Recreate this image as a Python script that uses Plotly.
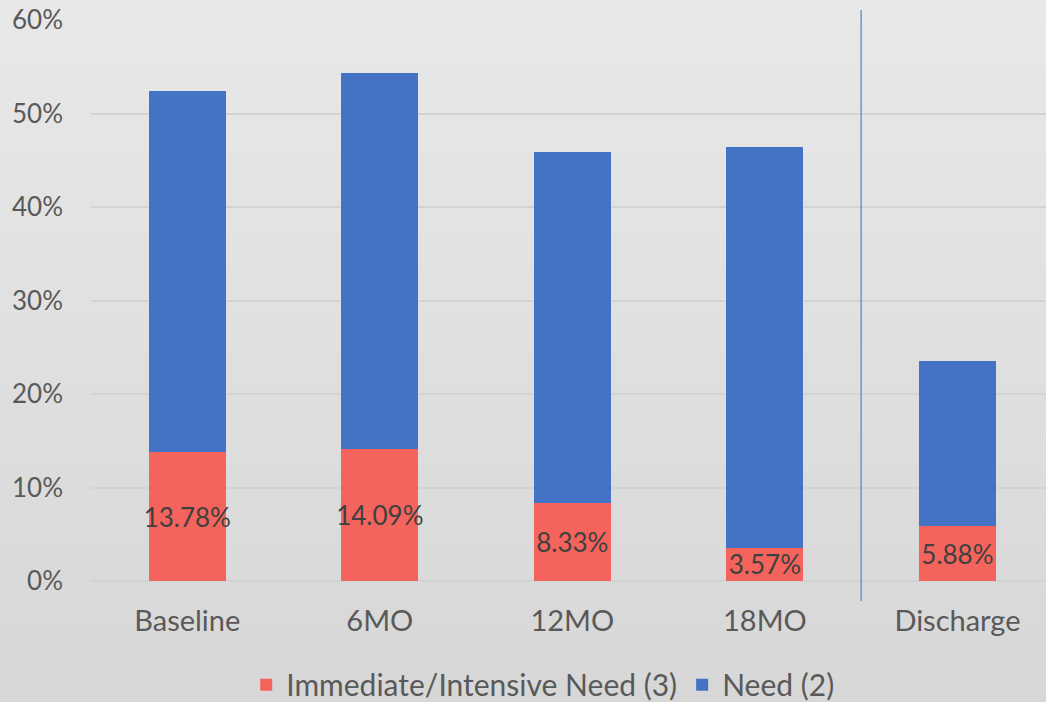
import plotly.graph_objects as go

categories = ["Baseline", "6MO", "12MO", "18MO", "Discharge"]
immediate_need = [13.78, 14.09, 8.33, 3.57, 5.88]
need = [38.6, 40.2, 37.5, 42.9, 17.6]
series_names = ["Immediate/Intensive Need (3)", "Need (2)"]
y_ticks = [0, 10, 20, 30, 40, 50, 60]
y_tick_labels = ["0%", "10%", "20%", "30%", "40%", "50%", "60%"]

FONT = "Lato"
W, H = 1046, 702
ML, MR, MT, MB = 91, 0, 20, 121

fig = go.Figure()
fig.add_trace(go.Bar(
    x=categories, y=immediate_need, name=series_names[0],
    marker=dict(color="#f4645c", line=dict(width=0)),
    width=0.4,
    text=[f"{v:.2f}%" for v in immediate_need],
    textposition="inside", insidetextanchor="middle", textangle=0,
    textfont=dict(family=FONT, size=26, color="#404040"),
    cliponaxis=False,
))
fig.add_trace(go.Bar(
    x=categories, y=need, name=series_names[1],
    marker=dict(color="#4472c4", line=dict(width=0)),
    width=0.4,
))

# background gradient (figure-wide, in paper coordinates)
pw = W - ML - MR
ph = H - MT - MB
n = 60
shapes = []
for i in range(n):
    t = i / (n - 1)
    c0, c1 = 0xe8, 0xd7
    c = round(c0 + (c1 - c0) * t)
    top_px = i * H / n - (2 if i == 0 else 0)
    bot_px = (i + 1) * H / n + (10 if i == n - 1 else 1)
    shapes.append(dict(
        type="rect", xref="paper", yref="paper", layer="below",
        x0=-ML / pw - 0.01, x1=(W - ML) / pw + 0.01,
        y0=(H - MB - bot_px) / ph, y1=(H - MB - top_px) / ph,
        line=dict(width=0), fillcolor=f"rgb({c},{c},{c})",
    ))

# separator line between 18MO and Discharge
shapes.append(dict(
    type="line", xref="x", yref="paper", layer="above",
    x0=3.5, x1=3.5, y0=(H - MB - 601) / ph, y1=(H - MB - 10) / ph,
    line=dict(color="#5b9bd5", width=1.5),
))

fig.update_layout(
    width=W, height=H,
    margin=dict(l=ML, r=MR, t=MT, b=MB, autoexpand=False),
    barmode="stack",
    paper_bgcolor="#d8d8d8",
    plot_bgcolor="rgba(0,0,0,0)",
    font=dict(family=FONT, color="#595959"),
    shapes=shapes,
    uniformtext=dict(minsize=26, mode="show"),
    showlegend=True,
    legend=dict(
        orientation="h", x=0.473, xanchor="center", y=-0.185, yanchor="middle",
        font=dict(family=FONT, size=30, color="#595959"),
        bgcolor="rgba(0,0,0,0)", traceorder="normal",
    ),
    xaxis=dict(
        range=[-0.5, 4.46], automargin=False,
        showgrid=False, showline=False, zeroline=False,
        tickfont=dict(family=FONT, size=29, color="#595959"),
        ticks="", ticklabelstandoff=20,
    ),
    yaxis=dict(
        range=[0, 60], automargin=False,
        tickvals=y_ticks, ticktext=y_tick_labels,
        showgrid=True, gridcolor="#d3d3d3", gridwidth=1.5,
        zeroline=True, zerolinecolor="#d3d3d3", zerolinewidth=1.5,
        showline=False,
        tickfont=dict(family=FONT, size=26, color="#595959"),
        ticks="", ticklabelstandoff=27,
    ),
)

fig.write_html("out.html")
